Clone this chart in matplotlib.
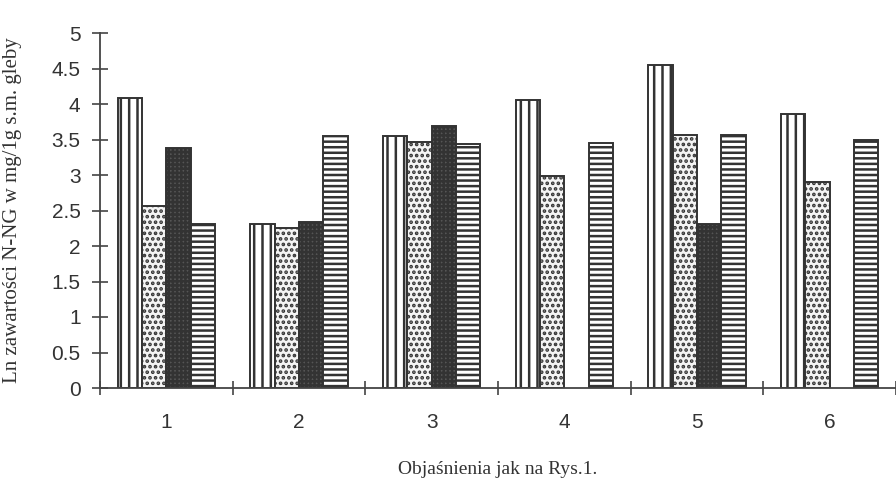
import numpy as np
import matplotlib
matplotlib.use("Agg")
import matplotlib.pyplot as plt
from matplotlib.ticker import FixedLocator, NullFormatter

groups = ["1", "2", "3", "4", "5", "6"]
s1 = [4.08, 2.31, 3.55, 4.06, 4.55, 3.86]
s2 = [2.57, 2.25, 3.46, 2.99, 3.56, 2.90]
s3 = [3.38, 2.34, 3.69, np.nan, 2.31, np.nan]
s4 = [2.31, 3.55, 3.44, 3.45, 3.56, 3.49]

plt.rcParams["hatch.linewidth"] = 1.8

fig = plt.figure(figsize=(8.96, 4.87), dpi=100)
ax = fig.add_axes([100 / 896, 99 / 487, 796 / 896, 355 / 487])

x = np.arange(1, len(groups) + 1)
w = 0.183
styles = [
    (s1, "white", "||"),
    (s2, "#f4f4f4", "..."),
    (s3, "#555555", "++++"),
    (s4, "white", "---"),
]
for i, (vals, fc, hatch) in enumerate(styles):
    ax.bar(x + (i - 1.5) * w, vals, width=w, facecolor=fc,
           edgecolor="#333333", hatch=hatch, linewidth=1.4)

ax.set_xlim(0.5, 6.5)
ax.set_ylim(0, 5)
ax.set_yticks(np.arange(0, 5.01, 0.5))
ax.set_yticklabels([f"{v:g}" for v in np.arange(0, 5.01, 0.5)])

ax.xaxis.set_major_locator(FixedLocator(np.arange(0.5, 6.6, 1)))
ax.xaxis.set_major_formatter(NullFormatter())
ax.xaxis.set_minor_locator(FixedLocator(x))
ax.set_xticklabels(groups, minor=True)
ax.tick_params(axis="x", which="minor", length=0, pad=18)
ax.tick_params(axis="x", which="major", direction="inout", length=10,
               width=1.2, color="#444444")
ax.tick_params(axis="y", direction="inout", length=12, width=1.2,
               color="#444444", pad=8)
for lab in ax.get_xticklabels(minor=True) + ax.get_yticklabels():
    lab.set_fontfamily("Liberation Sans")
    lab.set_fontsize(15)
    lab.set_color("#333333")

for side in ("top", "right"):
    ax.spines[side].set_visible(False)
for side in ("left", "bottom"):
    ax.spines[side].set_linewidth(1.3)
    ax.spines[side].set_color("#444444")

ax.set_ylabel("Ln zawartości N-NG w mg/1g s.m. gleby", family="Liberation Serif",
              fontsize=15, color="#333333", labelpad=4)
ax.yaxis.set_label_coords(-78 / 796, 0.5)
fig.text(498 / 896, 1 - 470 / 487, "Objaśnienia jak na Rys.1.",
         family="Liberation Serif", fontsize=14, color="#333333",
         ha="center", va="center")

fig.savefig("out.png", dpi=100)
